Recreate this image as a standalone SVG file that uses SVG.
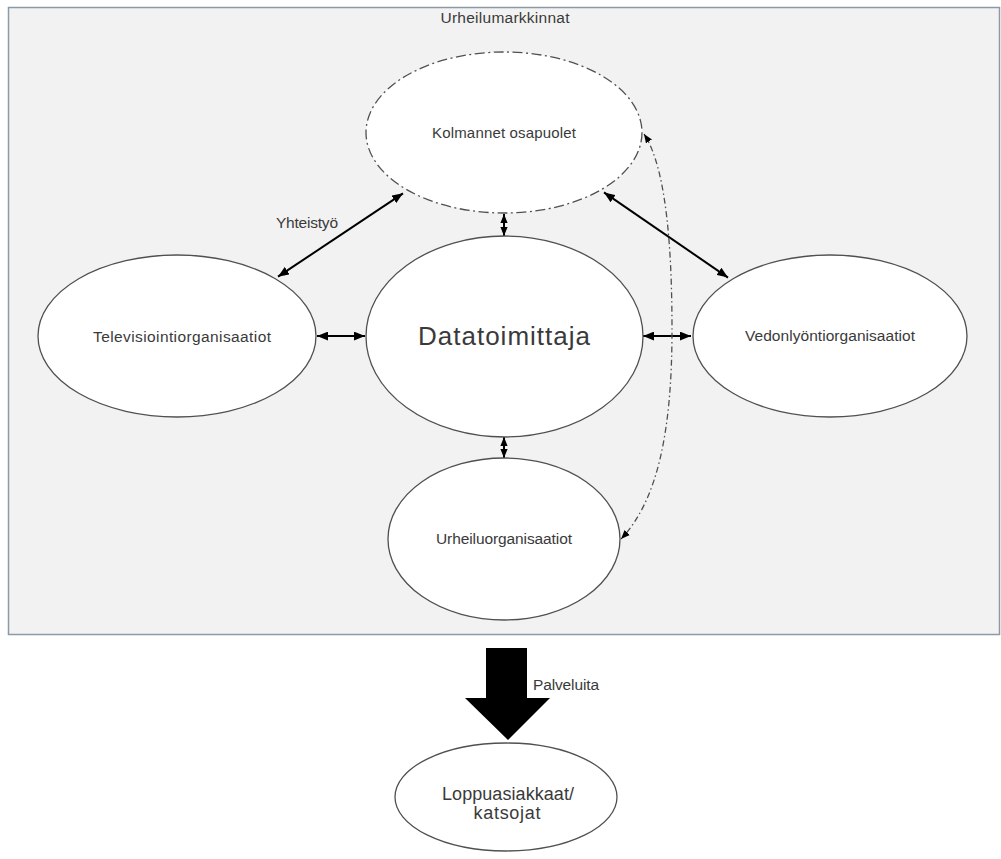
<svg xmlns="http://www.w3.org/2000/svg" width="1001" height="859" viewBox="0 0 1001 859">
  <defs>
    <style>
      .lbl { font-family: "Liberation Sans", Arial, sans-serif; fill: #3a3a3a; text-anchor: middle; }
      .node { fill: #ffffff; stroke: #505050; stroke-width: 1.3; }
      .dashnode { fill: #ffffff; stroke: #505050; stroke-width: 1.3; stroke-dasharray: 10 3.5 2 3.5; }
      .link { fill: none; stroke: #000000; stroke-width: 2; }
      .dlink { fill: none; stroke: #505050; stroke-width: 1.3; stroke-dasharray: 6 3 1.5 3; }
    </style>
    <marker id="head" viewBox="0 0 10 8" refX="10" refY="4" markerWidth="11" markerHeight="9" markerUnits="userSpaceOnUse" orient="auto-start-reverse">
      <path d="M0,0 L10,4 L0,8 Z" fill="#000000"/>
    </marker>
    <marker id="headS" viewBox="0 0 10 8" refX="10" refY="4" markerWidth="9" markerHeight="8" markerUnits="userSpaceOnUse" orient="auto-start-reverse">
      <path d="M0,0 L10,4 L0,8 Z" fill="#000000"/>
    </marker>
  </defs>

  <!-- market boundary -->
  <g id="market">
    <rect x="8.5" y="7.5" width="991" height="627" fill="#f2f2f2" stroke="#8c9aa8" stroke-width="1.5"/>
    <text class="lbl" x="505" y="23" font-size="15.5" textLength="129">Urheilumarkkinnat</text>
  </g>

  <!-- connectors -->
  <g id="connectors">
    <line class="link" x1="278" y1="276.7" x2="403" y2="193.3" marker-start="url(#head)" marker-end="url(#head)"/>
    <line class="link" x1="604" y1="192.4" x2="728" y2="277.6" marker-start="url(#head)" marker-end="url(#head)"/>
    <line class="link" x1="317" y1="336" x2="365" y2="336" marker-start="url(#head)" marker-end="url(#head)"/>
    <line class="link" x1="643" y1="336" x2="691" y2="336" marker-start="url(#head)" marker-end="url(#head)"/>
    <line class="link" x1="504" y1="214" x2="504" y2="236" marker-start="url(#headS)" marker-end="url(#headS)"/>
    <line class="link" x1="504" y1="437" x2="504" y2="458" marker-start="url(#headS)" marker-end="url(#headS)"/>
    <path class="dlink" d="M644,134 C668,170 672,260 672,330 C672,430 658,500 621,539" marker-start="url(#headS)" marker-end="url(#headS)"/>
    <text class="lbl" x="307" y="228" font-size="15.5" textLength="62">Yhteistyö</text>
    <polygon points="486,648 527,648 527,698 550,698 508,740 465,698 486,698" fill="#000000"/>
    <text class="lbl" x="566" y="690" font-size="15.5" textLength="66">Palveluita</text>
  </g>

  <g id="kolmannet">
    <ellipse class="dashnode" cx="504" cy="132.5" rx="138" ry="80.5"/>
    <text class="lbl" x="504" y="138" font-size="15" textLength="144">Kolmannet osapuolet</text>
  </g>

  <g id="datatoimittaja">
    <ellipse class="node" cx="504.5" cy="336.5" rx="138.5" ry="100.5"/>
    <text class="lbl" x="504" y="345" font-size="26" textLength="172">Datatoimittaja</text>
  </g>

  <g id="televisio">
    <ellipse class="node" cx="177" cy="336" rx="139" ry="81"/>
    <text class="lbl" x="182" y="342" font-size="15.5" textLength="178">Televisiointiorganisaatiot</text>
  </g>

  <g id="vedonlyonti">
    <ellipse class="node" cx="830" cy="336" rx="137" ry="81"/>
    <text class="lbl" x="830" y="341" font-size="15.5" textLength="170">Vedonlyöntiorganisaatiot</text>
  </g>

  <g id="urheilu">
    <ellipse class="node" cx="504" cy="539" rx="116" ry="81"/>
    <text class="lbl" x="504" y="544" font-size="15.5" textLength="136">Urheiluorganisaatiot</text>
  </g>

  <g id="loppuasiakkaat">
    <ellipse class="node" cx="506" cy="797" rx="111" ry="54"/>
    <text class="lbl" x="508" y="800" font-size="18" textLength="132">Loppuasiakkaat/</text>
    <text class="lbl" x="507" y="819" font-size="18" textLength="67">katsojat</text>
  </g>
</svg>
